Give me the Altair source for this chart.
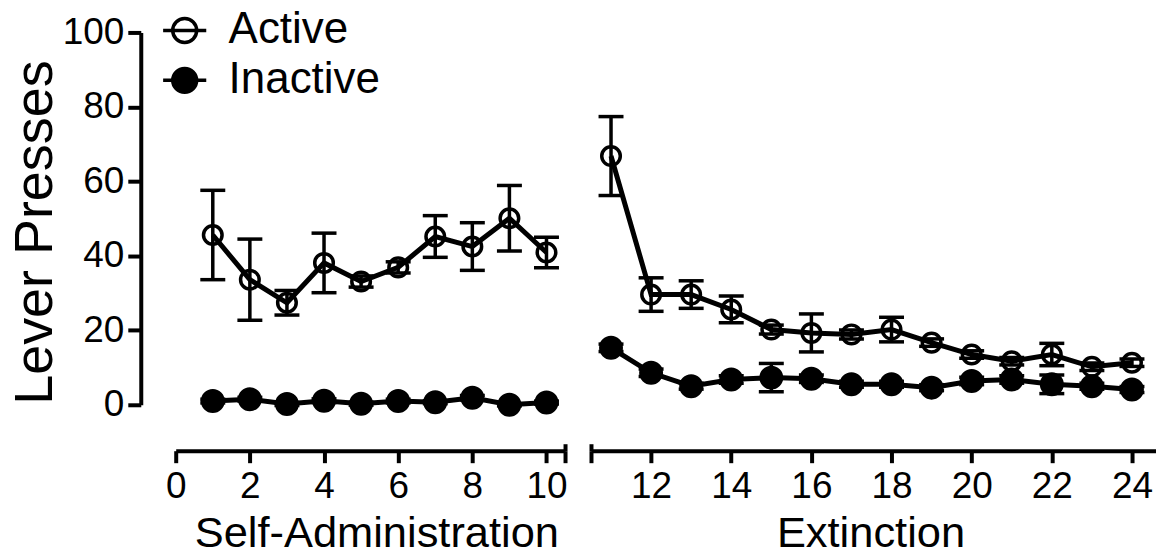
import altair as alt
import pandas as pd

# ---- data ----
series_names = ["Active", "Inactive"]

sa_days = [1, 2, 3, 4, 5, 6, 7, 8, 9, 10]
sa_active = [45.6, 33.6, 27.4, 38.1, 33.1, 36.9, 45.2, 42.5, 50.1, 40.9]
sa_active_sem = [12.0, 10.9, 3.3, 8.0, 1.5, 1.5, 5.6, 6.4, 8.8, 4.1]
sa_inactive = [1.0, 1.5, 0.2, 1.1, 0.3, 1.0, 0.7, 1.9, 0.0, 0.6]
sa_inactive_sem = [0.5, 0.5, 0.4, 0.5, 0.4, 0.5, 0.4, 0.6, 0.3, 0.4]

ext_days = [11, 12, 13, 14, 15, 16, 17, 18, 19, 20, 21, 22, 23, 24]
ext_active = [66.8, 29.6, 29.6, 25.6, 20.2, 19.3, 18.9, 20.2, 16.7, 13.5, 11.7, 13.5, 10.2, 11.3]
ext_active_sem = [10.6, 4.5, 3.7, 3.6, 1.2, 5.1, 1.2, 3.3, 1.0, 1.0, 1.0, 3.0, 1.0, 1.0]
ext_inactive = [15.3, 8.6, 5.0, 6.8, 7.3, 7.0, 5.5, 5.5, 4.6, 6.4, 6.8, 5.5, 5.0, 4.1]
ext_inactive_sem = [1.0, 1.0, 0.8, 1.0, 3.8, 1.0, 0.8, 0.8, 0.8, 1.0, 1.0, 2.5, 0.8, 0.8]

sa_ticks = [0, 2, 4, 6, 8, 10]
ext_ticks = [12, 14, 16, 18, 20, 22, 24]
y_ticks = [0, 20, 40, 60, 80, 100]
break_at = 10.5  # axis break between the two phases

PLOT_H = 373
X_OFFSET = 46


def make_df(days, act, act_sem, inact, inact_sem):
    rows = []
    for d, m, s in zip(days, act, act_sem):
        rows.append({"day": d, "series": "Active", "mean": m, "lo": m - s, "hi": m + s})
    for d, m, s in zip(days, inact, inact_sem):
        rows.append({"day": d, "series": "Inactive", "mean": m, "lo": m - s, "hi": m + s})
    return pd.DataFrame(rows)


sa_df = make_df(sa_days, sa_active, sa_active_sem, sa_inactive, sa_inactive_sem)
ext_df = make_df(ext_days, ext_active, ext_active_sem, ext_inactive, ext_inactive_sem)

FONT = "Liberation Sans"
LEGEND_PATH = "M-1.8,0L1.8,0M1,0A1,1,0,1,1,-1,0A1,1,0,1,1,1,0Z"


def panel(df, x_domain, x_values, x_title, title_x, width, show_y, show_legend):
    x_axis = alt.Axis(values=sorted(x_values + [break_at]), title=x_title,
                      offset=X_OFFSET, tickSize=12,
                      labelExpr=f"datum.value == {break_at} ? '' : datum.label",
                      labelFontSize=37, labelPadding=6, titleFontSize=43.5,
                      titlePadding=8, titleX=title_x, labelFlush=False)
    cap_axis = alt.Axis(values=[break_at], orient="top", offset=-(PLOT_H + X_OFFSET),
                        tickSize=7, domain=False, labels=False, title=None)
    x_scale = alt.Scale(domain=x_domain, nice=False, zero=False)
    y_scale = alt.Scale(domain=[0, 100], nice=False, zero=True)
    y_axis = (alt.Axis(values=y_ticks, title="Lever Presses", offset=35, tickSize=13,
                       labelFontSize=37, labelPadding=4, titleFontSize=54,
                       titlePadding=0, titleY=200)
              if show_y else None)

    def X(axis=None):
        return alt.X("day:Q", scale=x_scale, axis=axis)

    def Y(field):
        return alt.Y(f"{field}:Q", scale=y_scale, axis=y_axis)

    if show_legend:
        legend = alt.Legend(title=None, orient="none", legendX=-13, legendY=-24,
                            symbolType=LEGEND_PATH, symbolSize=576,
                            symbolStrokeColor="black", symbolStrokeWidth=3.5,
                            labelFontSize=44, labelFont=FONT, labelColor="black",
                            labelOffset=22, rowPadding=6, padding=0)
    else:
        legend = None

    fill = alt.Fill("series:N",
                    scale=alt.Scale(domain=series_names,
                                    range=["rgba(0,0,0,0)", "black"]),
                    legend=legend)

    base = alt.Chart(df)
    rule = base.mark_rule(color="black", strokeWidth=3.5).encode(
        x=X(cap_axis), y=Y("lo"), y2="hi:Q", detail="series:N")
    cap_hi = base.mark_tick(orient="horizontal", color="black", size=25,
                            thickness=3.5, opacity=1).encode(x=X(), y=Y("hi"))
    cap_lo = base.mark_tick(orient="horizontal", color="black", size=25,
                            thickness=3.5, opacity=1).encode(x=X(), y=Y("lo"))
    line = base.mark_line(color="black", strokeWidth=5).encode(
        x=X(x_axis), y=Y("mean"), detail="series:N")
    pts_open = base.transform_filter(alt.datum.series == "Active").mark_point(
        filled=True, stroke="black", strokeWidth=3.5, opacity=1, size=346
    ).encode(x=X(), y=Y("mean"), fill=fill)
    pts_full = base.transform_filter(alt.datum.series == "Inactive").mark_point(
        filled=True, stroke="black", strokeWidth=3, opacity=1, size=440
    ).encode(x=X(), y=Y("mean"), fill=fill)
    return (
        alt.layer(rule, cap_hi, cap_lo, line, pts_open, pts_full)
        .resolve_axis(x="independent")
        .properties(width=width, height=PLOT_H)
    )


left = panel(sa_df, [0, 10.5], sa_ticks, "Self-Administration", 201, 390, True, True)
right = panel(ext_df, [10.5, 24.6], ext_ticks, "Extinction", 280, 566, False, False)

chart = (
    alt.hconcat(left, right, spacing=26, bounds="flush")
    .resolve_scale(x="independent", y="independent", fill="independent")
    .properties(padding={"left": 0, "top": 0, "right": 0, "bottom": 0})
    .configure_view(stroke=None)
    .configure_axis(domainColor="black", tickColor="black", labelColor="black",
                    titleColor="black", labelFont=FONT, titleFont=FONT,
                    titleFontWeight="normal", grid=False, domainWidth=4,
                    tickWidth=4)
)

chart.save("out.html", embed_options={"renderer": "svg", "actions": False})
